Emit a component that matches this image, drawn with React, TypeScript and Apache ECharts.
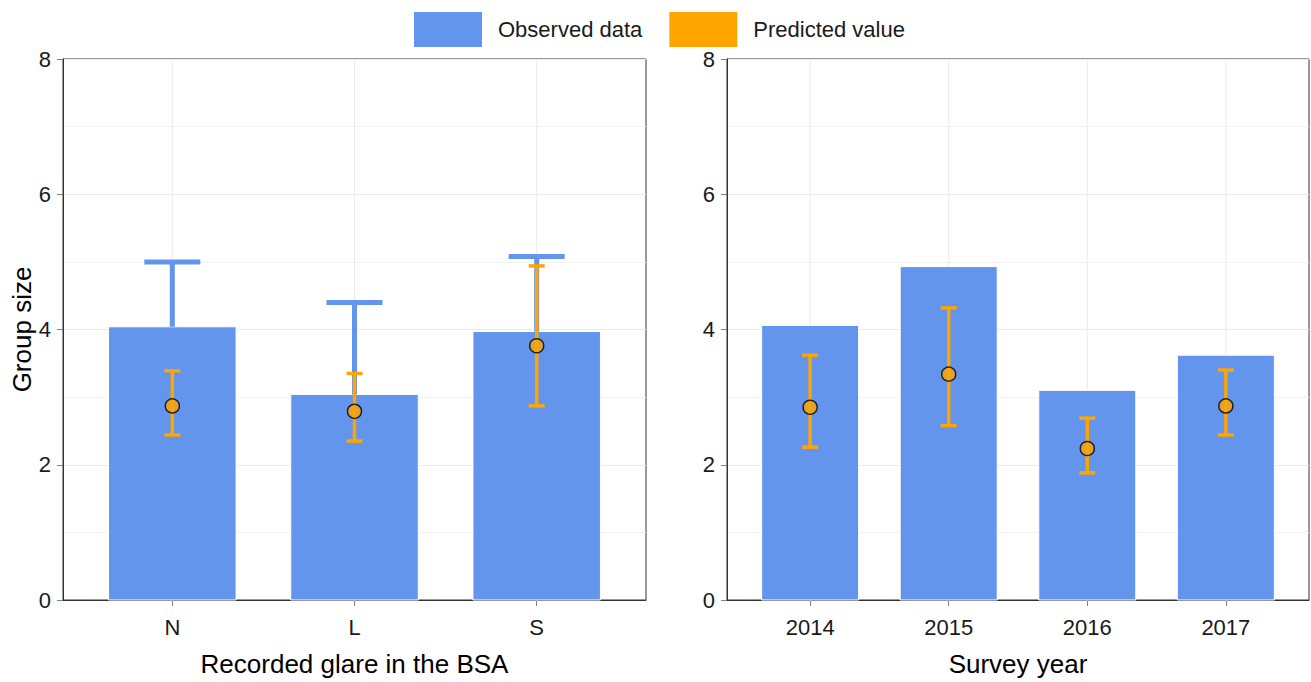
import React, { useEffect, useRef } from "react";
import * as echarts from "echarts";

const glareCats = ["N", "L", "S"];
const glareObserved = [4.04, 3.04, 3.97];
const glareObservedUpper = [5.0, 4.4, 5.08];
const glarePred = [2.87, 2.79, 3.76];
const glarePredLower = [2.44, 2.35, 2.87];
const glarePredUpper = [3.39, 3.35, 4.94];

const yearCats = ["2014", "2015", "2016", "2017"];
const yearObserved = [4.06, 4.93, 3.1, 3.62];
const yearPred = [2.85, 3.34, 2.24, 2.87];
const yearPredLower = [2.26, 2.58, 1.88, 2.44];
const yearPredUpper = [3.62, 4.32, 2.69, 3.4];

const yTicks = [0, 2, 4, 6, 8];

const BLUE = "#6495ED";
const ORANGE = "#FFA500";
const FONT = "Liberation Sans, Arial, sans-serif";
const Y_MIN = yTicks[0];
const Y_MAX = yTicks[yTicks.length - 1];
const BAR_HALF = 0.35;

function barSeries(idx: number, vals: number[]) {
  return {
    type: "custom",
    name: "Observed data",
    xAxisIndex: idx,
    yAxisIndex: idx,
    itemStyle: { color: BLUE },
    silent: true,
    data: vals.map((v, i) => [i + 1, v]),
    renderItem: (params: any, api: any) => {
      const x = api.value(0);
      const y = api.value(1);
      const tl = api.coord([x - BAR_HALF, y]);
      const br = api.coord([x + BAR_HALF, 0]);
      const g0 = api.coord([x, Y_MIN]);
      const g1 = api.coord([x, Y_MAX]);
      return {
        type: "group",
        children: [
          {
            type: "line",
            shape: { x1: g0[0], y1: g0[1], x2: g1[0], y2: g1[1] },
            style: { stroke: "#ebebeb", lineWidth: 1 },
          },
          {
            type: "rect",
            shape: { x: tl[0], y: tl[1], width: br[0] - tl[0], height: br[1] - tl[1] },
            style: { fill: BLUE, stroke: "#ffffff", lineWidth: 1 },
          },
        ],
      };
    },
  };
}

function errorSeries(idx: number, name: string, lows: number[], highs: number[], color: string, lw: number, capHalf: number, capOnLow: boolean) {
  return {
    type: "custom",
    name,
    xAxisIndex: idx,
    yAxisIndex: idx,
    itemStyle: { color },
    silent: true,
    data: lows.map((l, i) => [i + 1, l, highs[i]]),
    renderItem: (params: any, api: any) => {
      const x = api.value(0);
      const lo = api.coord([x, api.value(1)]);
      const hi = api.coord([x, api.value(2)]);
      const children: any[] = [
        {
          type: "line",
          shape: { x1: lo[0], y1: lo[1], x2: hi[0], y2: hi[1] },
          style: { stroke: color, lineWidth: lw },
        },
        {
          type: "line",
          shape: { x1: hi[0] - capHalf, y1: hi[1], x2: hi[0] + capHalf, y2: hi[1] },
          style: { stroke: color, lineWidth: lw },
        },
      ];
      if (capOnLow) {
        children.push({
          type: "line",
          shape: { x1: lo[0] - capHalf, y1: lo[1], x2: lo[0] + capHalf, y2: lo[1] },
          style: { stroke: color, lineWidth: lw },
        });
      }
      return { type: "group", children };
    },
  };
}

function pointSeries(idx: number, vals: number[]) {
  return {
    type: "scatter",
    name: "Predicted value",
    xAxisIndex: idx,
    yAxisIndex: idx,
    symbol: "circle",
    symbolSize: 14,
    silent: true,
    itemStyle: { color: ORANGE, borderColor: "#000", borderWidth: 1.5 },
    data: vals.map((v, i) => [i + 1, v]),
    z: 5,
  };
}

function xAxis(idx: number, cats: string[], name: string) {
  const vals = cats.map((_, i) => i + 1);
  return {
    type: "value",
    gridIndex: idx,
    min: 0.4,
    max: cats.length + 0.6,
    name,
    nameLocation: "middle",
    nameGap: 51,
    nameTextStyle: { fontSize: 26, color: "#000", fontFamily: FONT },
    axisLine: { show: true, lineStyle: { color: "#333", width: 1 } },
    axisTick: { show: true, length: 6, lineStyle: { color: "#808080" }, customValues: vals },
    axisLabel: {
      show: true,
      fontSize: 22,
      color: "#1a1a1a",
      fontFamily: FONT,
      margin: 16,
      customValues: vals,
      formatter: (v: number) => cats[Math.round(v) - 1] ?? "",
    },
    splitLine: { show: false },
  };
}

function yAxis(idx: number, name: string) {
  return {
    type: "value",
    gridIndex: idx,
    min: Y_MIN,
    max: Y_MAX,
    interval: 2,
    name,
    nameLocation: "middle",
    nameGap: 28,
    nameTextStyle: { fontSize: 26, color: "#000", fontFamily: FONT },
    axisLine: { show: true, lineStyle: { color: "#333", width: 1 } },
    axisTick: { show: true, length: 6, lineStyle: { color: "#808080" } },
    axisLabel: { fontSize: 22, color: "#1a1a1a", fontFamily: FONT, margin: 12 },
    splitLine: { show: true, lineStyle: { color: "#ebebeb", width: 1 } },
    minorTick: { show: false, splitNumber: 2 },
    minorSplitLine: { show: true, lineStyle: { color: "#f2f2f2", width: 1 } },
  };
}

export default function App() {
  const ref = useRef<HTMLDivElement>(null);
  useEffect(() => {
    if (!ref.current) return;
    const chart = echarts.init(ref.current, null, { renderer: "svg" });
    chart.setOption({
      animation: false,
      backgroundColor: "#ffffff",
      textStyle: { fontFamily: FONT },
      legend: {
        left: 414,
        top: 12,
        itemWidth: 68,
        itemHeight: 35,
        itemGap: 27,
        padding: 0,
        textStyle: { fontSize: 22, color: "#1a1a1a", fontFamily: FONT, padding: [0, 0, 0, 11] },
        data: [
          { name: "Observed data", icon: "rect", itemStyle: { color: BLUE, borderWidth: 0 } },
          { name: "Predicted value", icon: "rect", itemStyle: { color: ORANGE, borderWidth: 0 } },
        ],
        selectedMode: false,
      },
      grid: [
        { left: 63, top: 59, width: 583, height: 541, outerBoundsMode: "none", containLabel: false, show: true, borderColor: "#333", borderWidth: 1, backgroundColor: "transparent" },
        { left: 727, top: 59, width: 582, height: 541, outerBoundsMode: "none", containLabel: false, show: true, borderColor: "#333", borderWidth: 1, backgroundColor: "transparent" },
      ],
      xAxis: [xAxis(0, glareCats, "Recorded glare in the BSA"), xAxis(1, yearCats, "Survey year")],
      yAxis: [yAxis(0, "Group size"), yAxis(1, "")],
      series: [
        barSeries(0, glareObserved),
        errorSeries(0, "Observed data", glareObserved, glareObservedUpper, BLUE, 5, 28, false),
        errorSeries(0, "Predicted value", glarePredLower, glarePredUpper, ORANGE, 3.5, 8, true),
        pointSeries(0, glarePred),
        barSeries(1, yearObserved),
        errorSeries(1, "Predicted value", yearPredLower, yearPredUpper, ORANGE, 3.5, 8, true),
        pointSeries(1, yearPred),
      ],
    });
    return () => chart.dispose();
  }, []);
  return <div ref={ref} style={{ position: "fixed", left: 0, top: 0, width: 1311, height: 682 }} />;
}
